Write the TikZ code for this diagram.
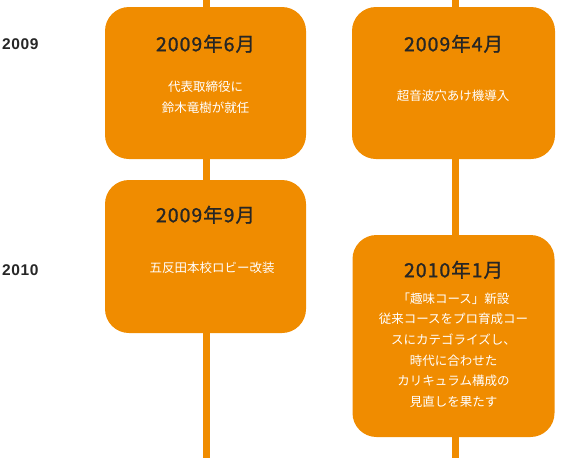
\documentclass[tikz,border=0pt]{standalone}
\usepackage{fontspec}
\setmainfont{Noto Sans CJK JP}
\newfontfamily\titlefont[FakeBold=1.3, LetterSpace=5]{Noto Sans CJK JP}
\newfontfamily\yearfont[LetterSpace=4]{Liberation Sans}
\usetikzlibrary{positioning}
\definecolor{tlorange}{HTML}{F08C00}

\begin{document}
\begin{tikzpicture}[x=1pt, y=-1pt,
        card/.style={rectangle, fill=tlorange, rounded corners=24pt, minimum width=201pt, inner sep=0pt},
        title/.style={text=black!85, font=\titlefont\fontsize{19.5}{22}\selectfont},
        body/.style={text=white, align=center, font=\fontsize{12.5}{20.7}\selectfont},
        year/.style={anchor=west, font=\yearfont\bfseries\fontsize{15.5}{17}\selectfont, text=black!85},
        spine/.style={draw=tlorange, line width=7pt}
      ]
\useasboundingbox (0,0) rectangle (585,458);

\coordinate (ltop) at (206,0);
      \coordinate (lbot) at (206,458);
      \coordinate (rtop) at (455,0);
      \coordinate (rbot) at (455,458);
\draw[spine] (ltop) -- (lbot);
      \draw[spine] (rtop) -- (rbot);

\node[year, inner sep=0pt] (y2009) at (2,44) {2009};
      \node[year, inner sep=0pt] (y2010) at (2,270) {2010};

\node[card, minimum height=152pt] (jun) at (205.5,83) {};
      \node[card, minimum height=152pt, minimum width=203pt] (apr) at (453.5,83) {};
      \node[card, minimum height=153pt] (sep) at (205.5,256.5) {};
      \node[card, minimum height=202pt, minimum width=202pt] (jan) at (453.5,336) {};

\node[title, below=37pt of jun.north, anchor=center] (junT) {2009年6月};
      \node[body] (junB) at (205.5,97) {代表取締役に\\鈴木竜樹が就任};

\node[title, below=37pt of apr.north, anchor=center] (aprT) {2009年4月};
      \node[body] (aprB) at (453,96) {超音波穴あけ機導入};

\node[title, below=35pt of sep.north, anchor=center] (sepT) {2009年9月};
      \node[body] (sepB) at (212,268) {五反田本校ロビー改装};

\node[title, below=35pt of jan.north, anchor=center] (janT) {2010年1月};
      \node[body] (janB) at (453.5,350) {「趣味コース」新設\\従来コースをプロ育成コー\\スにカテゴライズし、\\時代に合わせた\\カリキュラム構成の\\見直しを果たす};

      \end{tikzpicture}
\end{document}
